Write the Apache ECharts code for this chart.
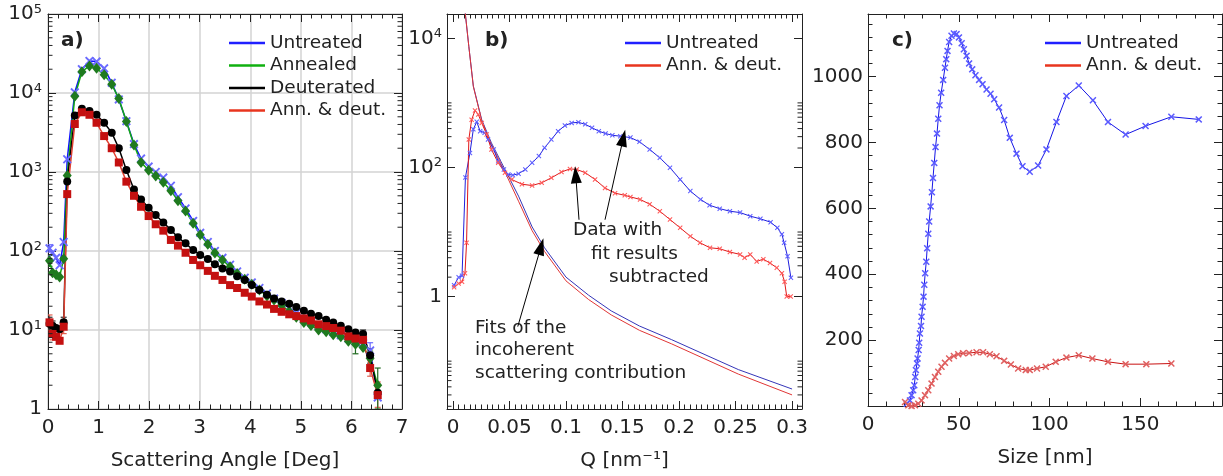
<!DOCTYPE html>
<html><head><meta charset="utf-8">
<script src="https://cdn.jsdelivr.net/npm/echarts@6/dist/echarts.min.js"></script>
<style>html,body{margin:0;padding:0;background:#fff}#c{width:1223px;height:476px}</style>
</head><body><div id="c"></div>
<script>
// ---------- Panel a) : intensity vs scattering angle ----------
const angle = [0.03,0.09,0.16,0.23,0.31,0.38,0.53,0.67,0.82,0.96,1.11,1.26,1.40,1.55,1.70,1.84,1.99,2.13,2.28,2.43,2.57,2.72,2.87,3.01,3.16,3.30,3.45,3.60,3.74,3.89,4.03,4.18,4.33,4.47,4.62,4.77,4.91,5.06,5.20,5.35,5.50,5.64,5.79,5.94,6.08,6.23,6.37,6.52];
const aUntreated = [108,95,82,66,130,1450,10200,20000,25500,25000,20500,13500,8300,4400,2260,1480,1170,1000,850,670,480,345,240,170,130,100,82,67,55,46,40,34,29,25,22,19,16.5,14,12.5,11.2,10.2,9.4,8.6,7.8,7.2,6.8,5.5,1.4];
const aAnnealed = [75,53,50,47,80,900,9100,18600,22000,20500,17000,12900,8500,4350,2200,1320,1050,890,740,580,433,322,224,160,122,94,77,63,52,44,38,32,27,24,20.5,17.2,14.5,12.4,11.4,10.0,9.5,8.7,8.2,7.2,6.6,6.0,4.4,2.0];
const aDeuterated = [12,11.3,10.6,10.2,12.5,760,5200,6300,5900,5300,4200,3150,2000,1060,600,450,353,286,230,185,149,125,103,89,79,68,60,55,48,43,37,32,28,25,23,21.5,19.5,17.5,16,15,13.5,12.4,11.3,10.2,9.3,8.9,4.8,1.6];
const aAnnDeut = [12.5,8.9,8.2,7.3,11,525,4050,5700,5300,4200,2850,2000,1320,755,500,363,277,218,181,138,117,95,77,66,56,48.5,43,37,34,29.6,26.5,23,21,18.5,17,15.8,15,14,13.2,11.8,11.2,10.6,9.8,8.3,7.8,7.5,3.3,1.5];
// error bars (angle, low, high) read at the ends of the range
const errUntreatedX = [0.03, 6.37];           const errUntreatedLo = [97, 4.2];            const errUntreatedHi = [120, 6.9];
const errAnnealedX = [0.03, 6.08, 6.37, 6.52]; const errAnnealedLo = [64, 5.0, 3.5, 1.0];   const errAnnealedHi = [88, 8.0, 5.4, 3.3];
const errDeuteratedX = [0.03, 0.09, 0.31, 6.23, 6.37]; const errDeuteratedLo = [10, 9.8, 10.5, 7.8, 3.8]; const errDeuteratedHi = [14.5, 13, 14.5, 10, 5.8];
const errAnnDeutX = [0.03, 0.09, 0.31, 6.37, 6.52]; const errAnnDeutLo = [10, 7.5, 9, 2.6, 1.05]; const errAnnDeutHi = [15.5, 10.5, 13.5, 4.2, 2.2];

// ---------- Panel b) : intensity vs Q ----------
const qUntreated = [0.001,0.005,0.008,0.011,0.015,0.018,0.021,0.024,0.028,0.031,0.036,0.040,0.045,0.049,0.053,0.058,0.064,0.070,0.076,0.081,0.087,0.093,0.099,0.105,0.111,0.117,0.123,0.129,0.135,0.141,0.148,0.157,0.165,0.174,0.183,0.192,0.201,0.210,0.219,0.227,0.236,0.245,0.254,0.263,0.272,0.281,0.287,0.291,0.293,0.296,0.299];
const bUntreated = [1.5,2.0,2.1,70,168,390,510,365,345,270,190,125,93,78,76,80,93,118,150,202,270,365,445,490,500,465,412,365,335,315,305,290,250,190,141,99,65,43,32,26,23,21,20,17.6,16,14.2,11.6,9.2,6.8,4.2,1.95];
const qAnnDeut = [0.001,0.005,0.008,0.0106,0.012,0.014,0.0165,0.0195,0.0224,0.0254,0.0298,0.034,0.040,0.046,0.052,0.061,0.070,0.0785,0.087,0.096,0.1035,0.1095,0.117,0.1257,0.1345,0.1434,0.152,0.157,0.1655,0.174,0.183,0.192,0.201,0.210,0.2186,0.2274,0.236,0.245,0.254,0.258,0.263,0.2687,0.2746,0.2805,0.2865,0.291,0.2934,0.2953,0.2988];
const bAnnDeut = [1.4,1.6,1.7,2.3,6.8,270,550,760,660,490,325,190,118,83,65,55,52.5,58,69,85,95,93,83,65,48,40,37,35,32,27,21,15.6,11.6,8.6,6.8,5.7,5.5,4.9,4.5,4.0,4.5,3.5,3.8,3.3,2.8,2.3,1.7,1.0,1.0];
const qFit = [0.0106,0.014,0.018,0.0254,0.034,0.046,0.058,0.070,0.081,0.100,0.120,0.140,0.165,0.1935,0.223,0.2525,0.300];
const fitUntreated = [27000,7500,1820,550,240,93,36,12,5.7,2.0,1.05,0.6,0.35,0.215,0.126,0.074,0.037];
const fitAnnDeut = [27000,7500,1800,530,225,85,30,10.5,5.0,1.75,0.9,0.52,0.30,0.185,0.108,0.063,0.030];

// ---------- Panel c) : size distribution ----------
const sizeUntreated = [21.3,23.1,24.0,24.9,25.5,26.0,26.4,27.0,27.3,27.9,28.2,28.6,29.2,29.5,30.1,30.6,31.0,31.5,32.1,32.6,33.2,33.7,34.5,35.2,35.8,36.5,37.2,38.0,38.7,39.4,40.3,41.4,42.4,43.1,43.8,44.7,46.0,47.3,48.8,50.1,51.6,52.8,54.3,55.7,57.4,59.2,61.2,63.1,65.3,67.5,69.5,72.2,75.0,78.1,81.8,85.1,89.1,93.7,98.3,103.8,109.3,116.1,123.9,132.2,141.9,152.9,167.1,182.2];
const cUntreated = [7,17,33,48,63,88,109,129,144,170,192,220,243,271,301,332,368,403,438,479,523,560,606,649,692,738,786,827,872,913,951,990,1027,1053,1078,1105,1124,1131,1129,1119,1101,1083,1063,1040,1022,1004,990,977,961,948,931,906,868,814,766,728,711,730,779,862,941,973,928,862,824,850,878,870];
const sizeAnnDeut = [20.4,22.2,24.0,25.9,27.7,29.5,31.4,33.2,35.0,36.9,38.7,40.5,42.4,44.7,47.3,49.7,52.4,55.7,59.8,63.4,67.1,70.8,75.0,78.7,82.7,86.9,89.1,93.1,97.9,103.4,109.3,116.1,123.6,132.2,141.9,153.3,167.1];
const cAnnDeut = [12,2,0,2,7,17,33,48,68,88,104,119,131,144,152,157,160,161,163,163,157,151,137,126,114,109,109,114,119,134,147,154,144,134,127,127,129];

// ---------- Labels / ticks ----------
const legendA = ['Untreated','Annealed','Deuterated','Ann. & deut.'];
const legendBC = ['Untreated','Ann. & deut.'];
const axisNames = ['Scattering Angle [Deg]','Q [nm\u207B\u00B9]','Size [nm]'];
const sizeTickLabels = [50, 100, 150];     // "0" is placed separately at the axis origin
const sizeOriginLabel = 0;
const countTickLabels = [200, 400, 600, 800, 1000];
const minorDecadesA = [0, 1, 2, 3, 4];
const minorDecadesB = [-2, 0, 2];
const minorMult = [2, 3, 4, 5, 6, 7, 8, 9];

const zip = (xs, ys) => xs.map((x, i) => [x, ys[i]]);
const zip3 = (xs, lo, hi) => xs.map((x, i) => [x, lo[i], hi[i]]);
const FONT = '"DejaVu Sans", sans-serif';
const INK = '#222';
const XSYM = 'path://M0,1.5L1.5,0L5,3.5L8.5,0L10,1.5L6.5,5L10,8.5L8.5,10L5,6.5L1.5,10L0,8.5L3.5,5Z';

function logFormatter() {
  return v => {
    const e = Math.log10(v), r = Math.round(e);
    if (Math.abs(e - r) > 1e-6) return '';
    return r === 0 ? '1' : '10{sup|' + r + '}';
  };
}
const supRich = { sup: { fontSize: 13, fontFamily: FONT, color: INK, verticalAlign: 'top', lineHeight: 14 } };
const stepLabel = step => v => (Math.abs(v / step - Math.round(v / step)) < 1e-6 ? String(+v.toFixed(2)) : '');

function axis(o) {
  const a = {
    gridIndex: o.grid, type: o.type || 'value', position: o.position,
    min: o.min, max: o.max,
    axisLine: { show: true, onZero: false, lineStyle: { color: INK, width: 1 } },
    axisTick: { show: true, inside: true, length: 8, lineStyle: { color: INK, width: 1 } },
    minorTick: { show: o.minor !== 0, splitNumber: o.minor || 5, length: 4.5, lineStyle: { color: INK, width: 1 } },
    splitLine: { show: !!o.split, lineStyle: { color: '#d3d3d3', width: 1.5 } },
    axisLabel: { show: !!o.labels, color: INK, fontFamily: FONT, fontSize: 20, margin: o.margin || 8, lineHeight: 22,
                 formatter: o.formatter, rich: supRich },
    axisPointer: { show: false }
  };
  if (o.labelValues) a.axisLabel.customValues = o.labelValues;
  if (o.logBase) a.logBase = o.logBase;
  if (o.interval != null) a.interval = o.interval;
  if (o.minInterval != null) { a.minInterval = o.minInterval; a.maxInterval = o.minInterval; }
  if (o.name) { a.name = o.name; a.nameLocation = 'middle'; a.nameGap = 42;
    a.nameTextStyle = { fontFamily: FONT, fontSize: 20, color: INK }; }
  return a;
}

const gridA = { left: 48, top: 14, width: 354, height: 395 };
const gridB = { left: 447, top: 14, width: 355, height: 395 };
const gridC = { left: 868, top: 14, width: 354, height: 392 };
const qMin = -0.0053, qMax = 0.3088;

const xAxes = [
  axis({ grid: 0, position: 'bottom', min: 0, max: 7, interval: 1, labels: true, split: true, name: axisNames[0] }),
  axis({ grid: 0, position: 'top', min: 0, max: 7, interval: 1 }),
  axis({ grid: 1, position: 'bottom', min: qMin, max: qMax, minInterval: 0.05, minor: 10, labels: true, name: axisNames[1],
         formatter: stepLabel(0.05) }),
  axis({ grid: 1, position: 'top', min: qMin, max: qMax, minInterval: 0.05, minor: 10 }),
  axis({ grid: 2, position: 'bottom', min: 0, max: 195, minInterval: 50, labels: true, name: axisNames[2],
         labelValues: sizeTickLabels, formatter: v => String(v) }),
  axis({ grid: 2, position: 'top', min: 0, max: 195, minInterval: 50 })
];
const yAxes = [
  axis({ grid: 0, type: 'log', position: 'left', min: 1, max: 100000, labels: true, split: true, minor: 0, margin: 6,
         formatter: logFormatter() }),
  axis({ grid: 0, type: 'log', position: 'right', min: 1, max: 100000, minor: 0 }),
  axis({ grid: 1, type: 'log', logBase: 100, position: 'left', min: 0.01815, max: 23800, labels: true, minor: 0, margin: 5,
         formatter: logFormatter() }),
  axis({ grid: 1, type: 'log', logBase: 100, position: 'right', min: 0.01815, max: 23800, minor: 0 }),
  axis({ grid: 2, position: 'left', min: 0, max: 1190, minInterval: 200, labels: true, margin: 5,
         labelValues: countTickLabels, formatter: v => String(v) }),
  axis({ grid: 2, position: 'right', min: 0, max: 1190, minInterval: 200 })
];

function lineSeries(name, xi, yi, data, lineColor, symColor, symbol, size, lw) {
  return { type: 'line', name, xAxisIndex: xi, yAxisIndex: yi, data,
    symbol: symbol || 'none', symbolSize: size, showSymbol: !!symbol, showAllSymbol: true,
    lineStyle: { color: lineColor, width: lw || 1 }, itemStyle: { color: symColor || lineColor },
    emphasis: { disabled: true }, animation: false, silent: true };
}

function minorTickMarks(xi, yi, xPos, values, offset) {
  return { type: 'scatter', xAxisIndex: xi, yAxisIndex: yi, silent: true, animation: false, clip: false, z: 5,
    data: values.map(v => [xPos, v]), symbol: 'rect', symbolSize: [4.5, 1], symbolOffset: [offset, 0],
    itemStyle: { color: INK, opacity: 1 }, emphasis: { disabled: true } };
}
const minorA = [], minorB = [];
minorDecadesA.forEach(k => minorMult.forEach(m => minorA.push(m * Math.pow(10, k))));
minorDecadesB.forEach(k => { minorMult.forEach(m => minorB.push(m * Math.pow(10, k))); minorB.push(Math.pow(10, k + 1)); });

function errorBars(data, color) {
  return { type: 'custom', xAxisIndex: 0, yAxisIndex: 0, silent: true, animation: false, clip: true, z: 3,
    data, encode: { x: 0, y: [1, 2] },
    renderItem: (params, api) => {
      const x = api.value(0);
      const lo = api.coord([x, api.value(1)]), hi = api.coord([x, api.value(2)]);
      const st = { stroke: color, lineWidth: 1.2 };
      return { type: 'group', children: [
        { type: 'line', shape: { x1: lo[0], y1: lo[1], x2: hi[0], y2: hi[1] }, style: st },
        { type: 'line', shape: { x1: lo[0] - 3, y1: lo[1], x2: lo[0] + 3, y2: lo[1] }, style: st },
        { type: 'line', shape: { x1: hi[0] - 3, y1: hi[1], x2: hi[0] + 3, y2: hi[1] }, style: st }
      ] };
    } };
}

const arrowFit = lineSeries('fitU', 2, 2, zip(qFit, fitUntreated), '#3535b8', null, null, 0, 1);
arrowFit.markLine = {
  silent: true, animation: false, symbol: ['none', 'triangle'], symbolSize: [11, 17],
  label: { show: false }, lineStyle: { color: '#000', width: 1, type: 'solid' },
  emphasis: { disabled: true },
  data: [
    [{ coord: [0.1115, 15.5] }, { coord: [0.1086, 77] }],
    [{ coord: [0.1345, 15.5] }, { coord: [0.1507, 286] }],
    [{ coord: [0.0573, 0.343] }, { coord: [0.0779, 5.96] }]
  ]
};

const series = [
  minorTickMarks(0, 0, 0, minorA, 2.25), minorTickMarks(0, 0, 7, minorA, -2.25),
  minorTickMarks(2, 2, qMin, minorB, 2.25), minorTickMarks(2, 2, qMax, minorB, -2.25),
  errorBars(zip3(errAnnDeutX, errAnnDeutLo, errAnnDeutHi), '#e06050'),
  errorBars(zip3(errDeuteratedX, errDeuteratedLo, errDeuteratedHi), '#333333'),
  errorBars(zip3(errUntreatedX, errUntreatedLo, errUntreatedHi), '#6b6bff'),
  errorBars(zip3(errAnnealedX, errAnnealedLo, errAnnealedHi), '#1f6a1f'),
  lineSeries('Untreated', 0, 0, zip(angle, aUntreated), '#1010ff', '#6b6bff', XSYM, 9, 1.5),
  lineSeries('Annealed', 0, 0, zip(angle, aAnnealed), '#12a812', '#1f7a1f', 'diamond', [9, 11], 1.5),
  lineSeries('Deuterated', 0, 0, zip(angle, aDeuterated), '#000000', '#000000', 'circle', 8, 1.5),
  lineSeries('Ann. & deut.', 0, 0, zip(angle, aAnnDeut), '#e04030', '#c41010', 'rect', 8, 1.5),

  arrowFit,
  lineSeries('fitA', 2, 2, zip(qFit, fitAnnDeut), '#e03535', null, null, 0, 1),
  lineSeries('Untreated', 2, 2, zip(qUntreated, bUntreated), '#2020dd', '#6060ff', XSYM, 5, 1),
  lineSeries('Ann. & deut.', 2, 2, zip(qAnnDeut, bAnnDeut), '#e01818', '#ff5a5a', XSYM, 5, 1),

  lineSeries('Untreated', 4, 4, zip(sizeUntreated, cUntreated), '#1515e6', '#5a5aff', XSYM, 7, 1),
  lineSeries('Ann. & deut.', 4, 4, zip(sizeAnnDeut, cAnnDeut), '#c81010', '#e06060', XSYM, 7, 1)
];

const legendColors = { 'Untreated': '#2020ff', 'Annealed': '#10b010', 'Deuterated': '#000000', 'Ann. & deut.': '#e8351e' };
function legend(left, names) {
  return { left, top: 28.5, orient: 'vertical', icon: 'rect', itemWidth: 36, itemHeight: 2.5, itemGap: 3.5,
    selectedMode: false, textStyle: { fontFamily: FONT, fontSize: 18.5, color: INK },
    data: names.map(n => ({ name: n, itemStyle: { color: legendColors[n] } })) };
}

function txt(x, y, text, bold, align) {
  return { type: 'text', x, y, silent: true,
    style: { text, fill: INK, font: (bold ? 'bold 20px ' : (bold === false ? '20px ' : '18.5px ')) + FONT,
             align: align || 'left', textAlign: align || 'left', verticalAlign: 'middle', textVerticalAlign: 'middle' } };
}

const chart = echarts.init(document.getElementById('c'), null, { renderer: 'canvas' });
const graphics = [
  txt(61, 41, 'a)', true), txt(485, 41, 'b)', true), txt(892, 41, 'c)', true),
  txt(573, 230, 'Data with'), txt(591, 254, 'fit results'), txt(609, 277, 'subtracted'),
  txt(475, 328, 'Fits of the'), txt(475, 350, 'incoherent'), txt(475, 373, 'scattering contribution')
];
chart.setOption({
  backgroundColor: '#fff',
  animation: false,
  grid: [gridA, gridB, gridC].map(g => Object.assign({ outerBoundsMode: 'none', containLabel: false }, g)),
  xAxis: xAxes,
  yAxis: yAxes,
  legend: [legend(224, legendA), legend(620, legendBC), legend(1040, legendBC)],
  series,
  graphic: graphics
});
// origin label of the Size axis, placed through the axis scale
const origin = chart.convertToPixel({ xAxisIndex: 4, yAxisIndex: 4 }, [sizeOriginLabel, 0]);
graphics.push(txt(origin[0], origin[1] + 8 + 11, String(sizeOriginLabel), false, 'center'));
chart.setOption({ graphic: graphics });
</script>
</body></html>
